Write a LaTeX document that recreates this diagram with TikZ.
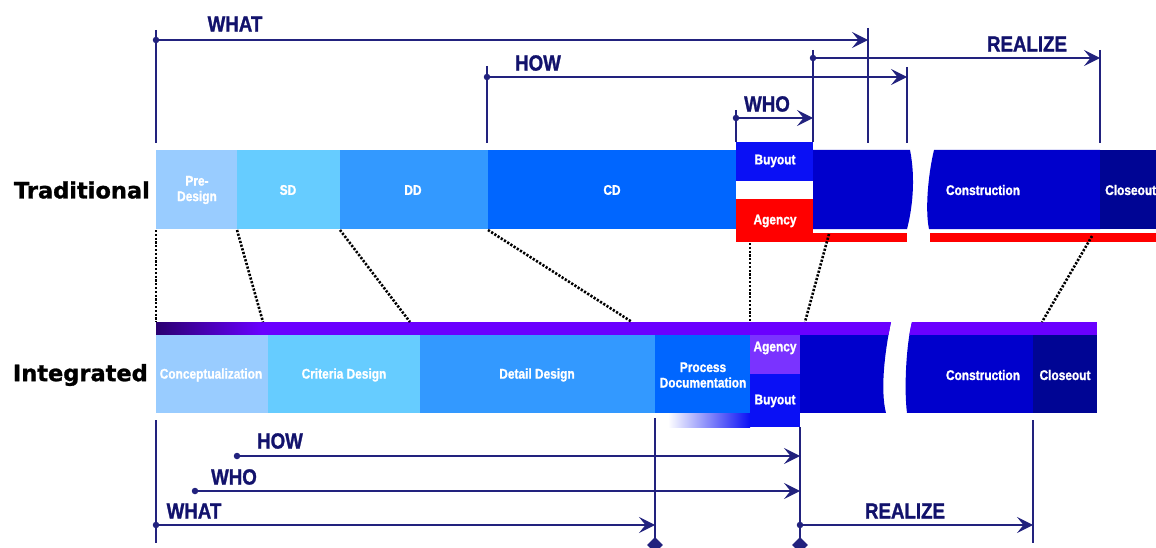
\documentclass[tikz,border=0pt]{standalone}
\usepackage{fontspec}
\setmainfont{Liberation Sans}
\newfontfamily\narrowbold{Liberation Sans Bold}[FakeStretch=0.85, FakeBold=1.2]
\newfontfamily\heavysans{DejaVu Sans Bold}[FakeBold=1.2]
\usetikzlibrary{arrows.meta,shapes.geometric}

\definecolor{phaseA}{HTML}{99CCFF}
\definecolor{phaseB}{HTML}{66CCFF}
\definecolor{phaseC}{HTML}{3399FF}
\definecolor{phaseD}{HTML}{0066FF}
\definecolor{buyblue}{HTML}{0A10F5}
\definecolor{buildblue}{HTML}{0000CC}
\definecolor{closeblue}{HTML}{000594}
\definecolor{agencyred}{HTML}{FF0000}
\definecolor{stripviolet}{HTML}{6A00FF}
\definecolor{deepviolet}{HTML}{2A0070}
\definecolor{agencyviolet}{HTML}{7A33FF}
\definecolor{navy}{HTML}{22227E}
\definecolor{navytext}{HTML}{12126C}

\tikzset{
  phase/.style={font=\narrowbold\fontsize{14}{15.5}\selectfont, text=white, align=center, inner sep=0},
  tag/.style={font=\narrowbold\fontsize{22}{24}\selectfont, text=navytext, inner sep=0},
  rowlabel/.style={font=\heavysans\fontsize{22.5}{25}\selectfont, anchor=east, inner sep=0},
  span/.style={draw=navy, line width=1.4pt, -{Stealth[length=16pt,width=16pt,inset=6.5pt]}},
  tick/.style={draw=navy, line width=1.4pt},
  dot/.style={circle, fill=navy, inner sep=0, minimum size=6.5pt},
  gate/.style={diamond, fill=navy, inner sep=0, minimum size=16pt},
  link/.style={draw=black, line width=2.6pt, dash pattern=on 2.2pt off 1.6pt}
}

\begin{document}
\begin{tikzpicture}[x=1pt,y=-1pt]
\useasboundingbox (0,0) rectangle (1156,548);

% ---------------- Traditional delivery bar ----------------
\fill[phaseA] (156,150) rectangle (237,229);
\fill[phaseB] (237,150) rectangle (340,229);
\fill[phaseC] (340,150) rectangle (488,229);
\fill[phaseD] (488,150) rectangle (736,229);
\fill[buyblue] (736,142) rectangle (813,181);
\fill[agencyred] (736,199) rectangle (813,242);
\fill[buildblue] (813,150) -- (910,150) .. controls (916,180) and (912,210) .. (907,229) -- (813,229) -- cycle;
\fill[agencyred] (813,233) rectangle (907,242);
\fill[buildblue] (934,150) -- (1100,150) -- (1100,229) -- (929,229) .. controls (925,210) and (928,175) .. (934,150) -- cycle;
\fill[closeblue] (1100,150) rectangle (1156,229);
\fill[agencyred] (930,233) rectangle (1156,242);

\node[phase] (tpre) at (197,190) {Pre-\\Design};
\node[phase] (tsd) at (288,190) {SD};
\node[phase] (tdd) at (413,190) {DD};
\node[phase] (tcd) at (612,190) {CD};
\node[phase] (tbuy) at (775,161) {Buyout};
\node[phase] (tagency) at (775,221) {Agency};
\node[phase] (tcons) at (983,190) {Construction};
\node[phase, anchor=west] (tclose) at (1105,190) {Closeout};

\node[rowlabel] (trad) at (150,190) {Traditional};

% ---------------- Integrated delivery bar ----------------
\begin{scope}
  \clip (156,322) -- (891,322) .. controls (885,350) and (880,390) .. (886,413) -- (156,413) -- cycle;
  \fill[buildblue] (800,322) rectangle (900,413);
  \fill[stripviolet] (262,322) rectangle (900,335);
\end{scope}
\shade[left color=deepviolet, right color=stripviolet] (156,322) rectangle (262,335);
\begin{scope}
  \clip (912,322) -- (1097,322) -- (1097,413) -- (907,413) .. controls (904,390) and (906,345) .. (912,322) -- cycle;
  \fill[buildblue] (900,322) rectangle (1033,413);
  \fill[closeblue] (1033,322) rectangle (1097,413);
  \fill[stripviolet] (900,322) rectangle (1097,335);
\end{scope}
\fill[phaseA] (156,335) rectangle (268,413);
\fill[phaseB] (268,335) rectangle (420,413);
\fill[phaseC] (420,335) rectangle (655,413);
\fill[phaseD] (655,335) rectangle (750,413);
\fill[agencyviolet] (750,335) rectangle (800,374);
\fill[buyblue] (750,374) rectangle (800,427);
\shade[left color=white, right color=buyblue] (668,413) rectangle (750,427);

\node[phase] (iconc) at (211,375) {Conceptualization};
\node[phase] (icrit) at (344,375) {Criteria Design};
\node[phase] (idet) at (537,375) {Detail Design};
\node[phase] (iproc) at (703,375) {Process\\Documentation};
\node[phase] (iagency) at (775,348) {Agency};
\node[phase] (ibuy) at (775,401) {Buyout};
\node[phase] (icons) at (983,375) {Construction};
\node[phase] (iclose) at (1065,375) {Closeout};

\node[rowlabel] (integ) at (148,375) {Integrated};

% ---------------- Dotted phase correspondences ----------------
\coordinate (ta) at (156,230);  \coordinate (ia) at (156,322);
\coordinate (tb) at (237,230);  \coordinate (ib) at (263,322);
\coordinate (tc) at (340,230);  \coordinate (ic) at (410,322);
\coordinate (td) at (488,230);  \coordinate (id) at (632,322);
\coordinate (te) at (750,243);  \coordinate (ie) at (750,322);
\coordinate (tf) at (829,234);  \coordinate (iff) at (805,322);
\coordinate (tg) at (1092,236); \coordinate (ig) at (1042,322);
\foreach \a/\b in {ta/ia, tb/ib, tc/ic, td/id, te/ie, tf/iff, tg/ig}
  \draw[link] (\a) -- (\b);

% ---------------- Traditional spans ----------------
\draw[tick] (156,30) -- (156,143);
\draw[tick] (868,28) -- (868,143);
\draw[tick] (487,66) -- (487,143);
\draw[tick] (907,67) -- (907,143);
\draw[tick] (813,50) -- (813,142);
\draw[tick] (1100,50) -- (1100,143);
\draw[tick] (736,110) -- (736,142);

\node[dot] (twhat0) at (156,40) {};
\coordinate (twhat1) at (868,40);
\draw[span] (twhat0.center) -- (twhat1);
\node[tag] (twhat) at (235,24) {WHAT};

\node[dot] (thow0) at (487,77) {};
\coordinate (thow1) at (907,77);
\draw[span] (thow0.center) -- (thow1);
\node[tag] (thow) at (538,63) {HOW};

\node[dot] (treal0) at (813,58) {};
\coordinate (treal1) at (1100,58);
\draw[span] (treal0.center) -- (treal1);
\node[tag] (treal) at (1027,44) {REALIZE};

\node[dot] (twho0) at (736,118) {};
\coordinate (twho1) at (813,118);
\draw[span] (twho0.center) -- (twho1);
\node[tag] (twho) at (767,104) {WHO};

% ---------------- Integrated spans ----------------
\draw[tick] (156,420) -- (156,543);
\draw[tick] (655,418) -- (655,540);
\draw[tick] (800,427) -- (800,540);
\draw[tick] (1033,420) -- (1033,543);
\node[gate] (gate1) at (655,545) {};
\node[gate] (gate2) at (800,545) {};

\node[dot] (ihow0) at (237,456) {};
\coordinate (ihow1) at (800,456);
\draw[span] (ihow0.center) -- (ihow1);
\node[tag] (ihow) at (280,441) {HOW};

\node[dot] (iwho0) at (195,491) {};
\coordinate (iwho1) at (800,491);
\draw[span] (iwho0.center) -- (iwho1);
\node[tag] (iwho) at (234,477) {WHO};

\node[dot] (iwhat0) at (156,525) {};
\coordinate (iwhat1) at (655,525);
\draw[span] (iwhat0.center) -- (iwhat1);
\node[tag] (iwhat) at (194,511) {WHAT};

\node[dot] (ireal0) at (800,525) {};
\coordinate (ireal1) at (1033,525);
\draw[span] (ireal0.center) -- (ireal1);
\node[tag] (ireal) at (905,511) {REALIZE};
\end{tikzpicture}
\end{document}
